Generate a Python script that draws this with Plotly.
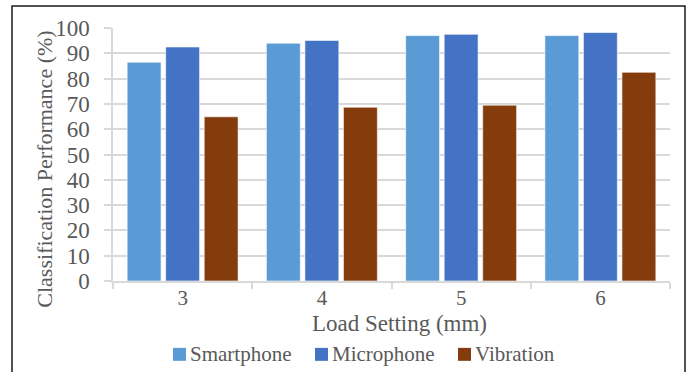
import plotly.graph_objects as go

# Load settings (mm) and classification performance (%) per sensing method
load_settings = ["3", "4", "5", "6"]
smartphone = [86.5, 94.0, 97.0, 97.0]
microphone = [92.5, 95.1, 97.5, 98.2]
vibration = [64.9, 68.7, 69.5, 82.5]
y_ticks = list(range(0, 101, 10))

series_names = ["Smartphone", "Microphone", "Vibration"]
series_colors = ["#5B9BD5", "#4472C4", "#843C0C"]
series_values = [smartphone, microphone, vibration]

FONT = "Liberation Serif"
GRAY = "#595959"
GRID = "#d9d9d9"

W, H = 691, 372
L, R, T, B = 113, 21, 28, 90.5
pw, ph = W - L - R, H - T - B


def px_x(p):
    """Pixel column -> paper x."""
    return (p - L) / pw


def px_y(p):
    """Pixel row -> paper y."""
    return (H - B - p) / ph


fig = go.Figure()
for name, vals, color in zip(series_names, series_values, series_colors):
    fig.add_trace(go.Bar(
        x=load_settings, y=vals, name=name,
        marker=dict(color=color, line=dict(color="rgba(255,255,255,0.6)", width=1)),
    ))

# Legend row below the axis title: coloured square followed by its label
legend_x = [173, 315, 458]
legend_row = 355
shapes = []
annotations = []
for lx, name, color in zip(legend_x, series_names, series_colors):
    shapes.append(dict(
        type="rect", xref="paper", yref="paper",
        x0=px_x(lx), x1=px_x(lx + 13), y0=px_y(legend_row + 6.5), y1=px_y(legend_row - 6.5),
        fillcolor=color, line=dict(width=0),
    ))
    annotations.append(dict(
        text=name, xref="paper", yref="paper",
        x=px_x(lx + 15), y=px_y(legend_row), xanchor="left", yanchor="middle",
        showarrow=False, font=dict(family=FONT, size=21, color=GRAY),
    ))

# Axis titles
annotations.append(dict(
    text="Load Setting (mm)", xref="paper", yref="paper",
    x=px_x(399), y=px_y(324), xanchor="center", yanchor="middle",
    showarrow=False, font=dict(family=FONT, size=23, color=GRAY),
))
annotations.append(dict(
    text="Classification Performance (%)", xref="paper", yref="paper",
    x=px_x(45), y=px_y(170), xanchor="center", yanchor="middle", textangle=-90,
    showarrow=False, font=dict(family=FONT, size=22, color=GRAY),
))

# Outer frame (open at the bottom edge of the page)
shapes.append(dict(
    type="rect", xref="paper", yref="paper",
    x0=px_x(12), x1=px_x(685), y0=-0.6, y1=px_y(6),
    line=dict(color="#1a1a1a", width=1.5), fillcolor="rgba(0,0,0,0)",
    layer="above",
))

fig.update_layout(
    width=W, height=H,
    margin=dict(l=L, r=R, t=T, b=B, autoexpand=False),
    paper_bgcolor="white", plot_bgcolor="white",
    barmode="group", bargap=0.17, bargroupgap=0.12,
    font=dict(family=FONT, color=GRAY, size=22),
    showlegend=False,
    shapes=shapes,
    annotations=annotations,
)

fig.update_xaxes(
    type="category",
    showline=True, linecolor=GRID, linewidth=1.5,
    ticks="outside", tickson="boundaries", ticklen=6, tickcolor=GRID, tickwidth=1.5,
    ticklabelstandoff=-3,
    tickfont=dict(family=FONT, size=21, color=GRAY),
)
fig.update_yaxes(
    range=[0, 100], tickvals=y_ticks,
    showgrid=True, gridcolor=GRID, gridwidth=1.5,
    showline=True, linecolor=GRID, linewidth=1.5,
    ticks="outside", ticklen=7, tickcolor=GRID, tickwidth=1.5,
    ticklabelstandoff=10,
    tickfont=dict(family=FONT, size=23, color=GRAY),
    zeroline=False,
)

fig.write_html("out.html")
